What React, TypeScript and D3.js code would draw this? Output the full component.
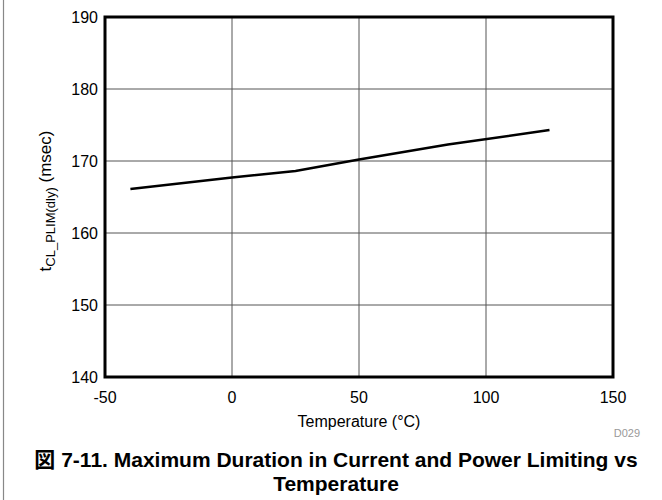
import React from "react";
import * as d3 from "d3";

const temps = [-40, 0, 25, 50, 85, 125];
const delays = [166.1, 167.7, 168.6, 170.2, 172.3, 174.3];
const xTicks = [-50, 0, 50, 100, 150];
const yTicks = [140, 150, 160, 170, 180, 190];

export default function App() {
  const W = 662, H = 500;
  const left = 105, right = 613, top = 17, bottom = 377;
  const x = d3.scaleLinear().domain([-50, 150]).range([left, right]);
  const y = d3.scaleLinear().domain([140, 190]).range([bottom, top]);
  const line = d3.line<number>().x((_, i) => x(temps[i])).y((d) => y(d));
  const font = "'Liberation Sans', Arial, Helvetica, sans-serif";
  return (
    <svg width={W} height={H} style={{ position: "absolute", left: 0, top: 0, background: "#fff" }} fontFamily={font}>
      <line x1={3.5} x2={3.5} y1={0} y2={H} stroke="#888" strokeWidth={1.2} />
      {xTicks.slice(1, -1).map((t) => (
        <line key={"gx" + t} x1={x(t)} x2={x(t)} y1={top} y2={bottom} stroke="#555" strokeWidth={1} />
      ))}
      {yTicks.slice(1, -1).map((t) => (
        <line key={"gy" + t} x1={left} x2={right} y1={y(t)} y2={y(t)} stroke="#555" strokeWidth={1} />
      ))}
      <path d={line(delays) || ""} fill="none" stroke="#000" strokeWidth={2.5} />
      <rect x={left} y={top} width={right - left} height={bottom - top} fill="none" stroke="#000" strokeWidth={3} />
      {yTicks.map((t) => (
        <text key={"ty" + t} x={left - 7} y={y(t)} dy="0.35em" textAnchor="end" fontSize={16} fill="#000">{t}</text>
      ))}
      {xTicks.map((t) => (
        <text key={"tx" + t} x={x(t)} y={bottom + 20} dy="0.35em" textAnchor="middle" fontSize={16} fill="#000">{t}</text>
      ))}
      <text x={(left + right) / 2} y={421} textAnchor="middle" fontSize={16} dy="0.35em">Temperature (°C)</text>
      <text x={640} y={433} textAnchor="end" fontSize={11} fill="#999" dy="0.35em">D029</text>
      <text transform={`translate(51,201) rotate(-90)`} textAnchor="middle" fontSize={17}>
        t<tspan fontSize={13} dy={4}>CL_PLIM(dly)</tspan><tspan dy={-4}> (msec)</tspan>
      </text>
      <text x={336} y={460} textAnchor="middle" fontSize={21} fontWeight="bold" dy="0.35em">
        <tspan fontFamily="'Noto Sans CJK JP', sans-serif">図</tspan> 7-11. Maximum Duration in Current and Power Limiting vs
      </text>
      <text x={336} y={484} textAnchor="middle" fontSize={21} fontWeight="bold" dy="0.35em">Temperature</text>
    </svg>
  );
}
